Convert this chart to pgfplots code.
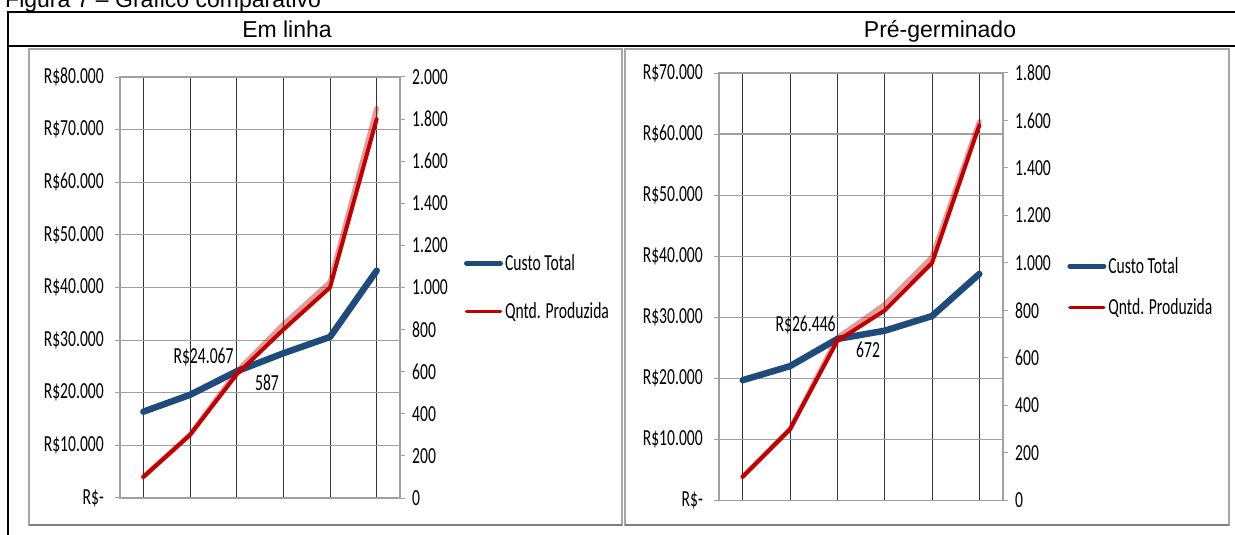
\documentclass[border=0pt]{standalone}
\usepackage{fontspec}
\usepackage{pgfplots}
\pgfplotsset{compat=1.18}
\setmainfont{Liberation Sans}
\newfontfamily\calib{Carlito}[FakeStretch=0.68]
\newcommand\cfont{\calib\fontsize{23bp}{27bp}\selectfont}
\newcommand\hfont{\fontsize{23bp}{27bp}\selectfont}
\definecolor{ctblue}{HTML}{1F4A7C}
\definecolor{qred}{HTML}{C00000}
\definecolor{gridgray}{HTML}{A0A0A0}
\definecolor{framegray}{HTML}{A6A6A6}

\pgfplotsset{
  common/.style={
    scale only axis,
    xmin=-0.5, xmax=5.5,
    xtick={0,...,5}, xticklabels={},
    scaled y ticks=false,
    ticklabel style={font=\cfont},
    tick align=outside,
    major tick length=5bp,
    axis line style={draw=gridgray, line width=1.2bp},
    tick style={draw=gridgray, line width=1bp},
    xtick style={draw=none},
  },
  leftax/.style={
    common,
    ymin=0,
    xmajorgrids, ymajorgrids,
    major x grid style={black!80, line width=0.8bp},
    major y grid style={gridgray, line width=1.2bp},
    ytick pos=left,
    yticklabel style={inner sep=0pt, xshift=-11bp},
  },
  rightax/.style={
    common,
    ymin=0,
    axis y line*=right, axis x line=none,
    yticklabel style={inner sep=0pt, xshift=7bp},
    legend cell align=left,
    legend image code/.code={\draw[##1] (0bp,0bp) -- (34bp,0bp);},
  },
  costline/.style={color=ctblue, line width=6.5bp, line join=round, line cap=round},
  qline/.style={color=qred, line width=4bp, line join=round, line cap=round},
  qghost/.style={color=qred, opacity=0.4, line width=5bp, line join=round, line cap=round},
}

\begin{document}
\begin{tikzpicture}
\useasboundingbox (0,0) rectangle (1235bp,535bp);
\clip (0,0) rectangle (1235bp,535bp);

% table lines
\draw[black, line width=2bp] (7bp,523bp) -- (1235bp,523bp);
\draw[black, line width=2bp] (7bp,489bp) -- (1235bp,489bp);
\draw[black, line width=2.5bp] (8bp,523bp) -- (8bp,0bp);

% title (cut off) and headers
\node[anchor=base west, font=\hfont, inner sep=0pt] at (5bp,527bp) {Figura 7 – Gráfico comparativo};
\node[anchor=base, font=\hfont, inner sep=0pt] at (287bp,497.7bp) {Em linha};
\node[anchor=base, font=\hfont, inner sep=0pt] at (940bp,497.7bp) {Pré-germinado};

% chart frames
\draw[framegray, line width=2bp] (29bp,10bp) rectangle (622bp,486bp);
\draw[gray, line width=2bp] (29bp,10bp) -- (622bp,10bp);
\draw[framegray, line width=2bp] (625bp,10bp) rectangle (1229bp,486bp);
\draw[gray, line width=2bp] (625bp,10bp) -- (1229bp,10bp);

% ===== Em linha =====
\begin{axis}[leftax, at={(120bp,37bp)}, anchor=south west, width=280bp, height=421bp,
  ymax=80000, ytick={0,10000,...,80000},
  yticklabels={R\$-,R\$10.000,R\$20.000,R\$30.000,R\$40.000,R\$50.000,R\$60.000,R\$70.000,R\$80.000}]
\addplot[costline] coordinates {(0,16400) (1,19600) (2,24067) (3,27500) (4,30600) (5,43200)};
\node[font=\cfont, inner sep=0pt] at (axis cs:1.29,26800) {R\$24.067};
\end{axis}
\begin{axis}[rightax, at={(120bp,37bp)}, anchor=south west, width=280bp, height=421bp,
  ymax=2000, ytick={0,200,...,2000},
  yticklabels={0,200,400,600,800,1.000,1.200,1.400,1.600,1.800,2.000},
  legend style={at={(axis description cs:1.228,0.5)}, anchor=west, draw=none, fill=none,
    font=\cfont, row sep=27bp, inner sep=0pt}]
\addlegendimage{color=ctblue, line width=5bp, line cap=round}
\addlegendentry{Custo Total}
\addplot[qghost, forget plot] coordinates {(0,100) (1,300) (2,600) (3,825) (4,1025) (5,1850)};
\addplot[qline, legend image post style={line width=3.5bp}] coordinates {(0,100) (1,300) (2,587) (3,800) (4,1000) (5,1800)};
\addlegendentry{Qntd. Produzida}
\node[font=\cfont, inner sep=0pt] at (axis cs:2.65,546) {587};
\end{axis}

% ===== Pré-germinado =====
\begin{axis}[leftax, at={(719bp,34.5bp)}, anchor=south west, width=284bp, height=427.5bp,
  ymax=70000, ytick={0,10000,...,70000},
  yticklabels={R\$-,R\$10.000,R\$20.000,R\$30.000,R\$40.000,R\$50.000,R\$60.000,R\$70.000}]
\addplot[costline] coordinates {(0,19700) (1,22000) (2,26446) (3,27800) (4,30200) (5,37100)};
\node[font=\cfont, inner sep=0pt] at (axis cs:1.33,28750) {R\$26.446};
\end{axis}
\begin{axis}[rightax, at={(719bp,34.5bp)}, anchor=south west, width=284bp, height=427.5bp,
  ymax=1800, ytick={0,200,...,1800},
  yticklabels={0,200,400,600,800,1.000,1.200,1.400,1.600,1.800},
  legend style={at={(axis description cs:1.226,0.5)}, anchor=west, draw=none, fill=none,
    font=\cfont, row sep=20bp, inner sep=0pt}]
\addlegendimage{color=ctblue, line width=5bp, line cap=round}
\addlegendentry{Custo Total}
\addplot[qghost, forget plot] coordinates {(0,100) (1,300) (2,685) (3,825) (4,1025) (5,1595)};
\addplot[qline, legend image post style={line width=3.5bp}] coordinates {(0,100) (1,300) (2,672) (3,800) (4,1000) (5,1580)};
\addlegendentry{Qntd. Produzida}
\node[font=\cfont, inner sep=0pt] at (axis cs:2.65,634) {672};
\end{axis}
\end{tikzpicture}
\end{document}
